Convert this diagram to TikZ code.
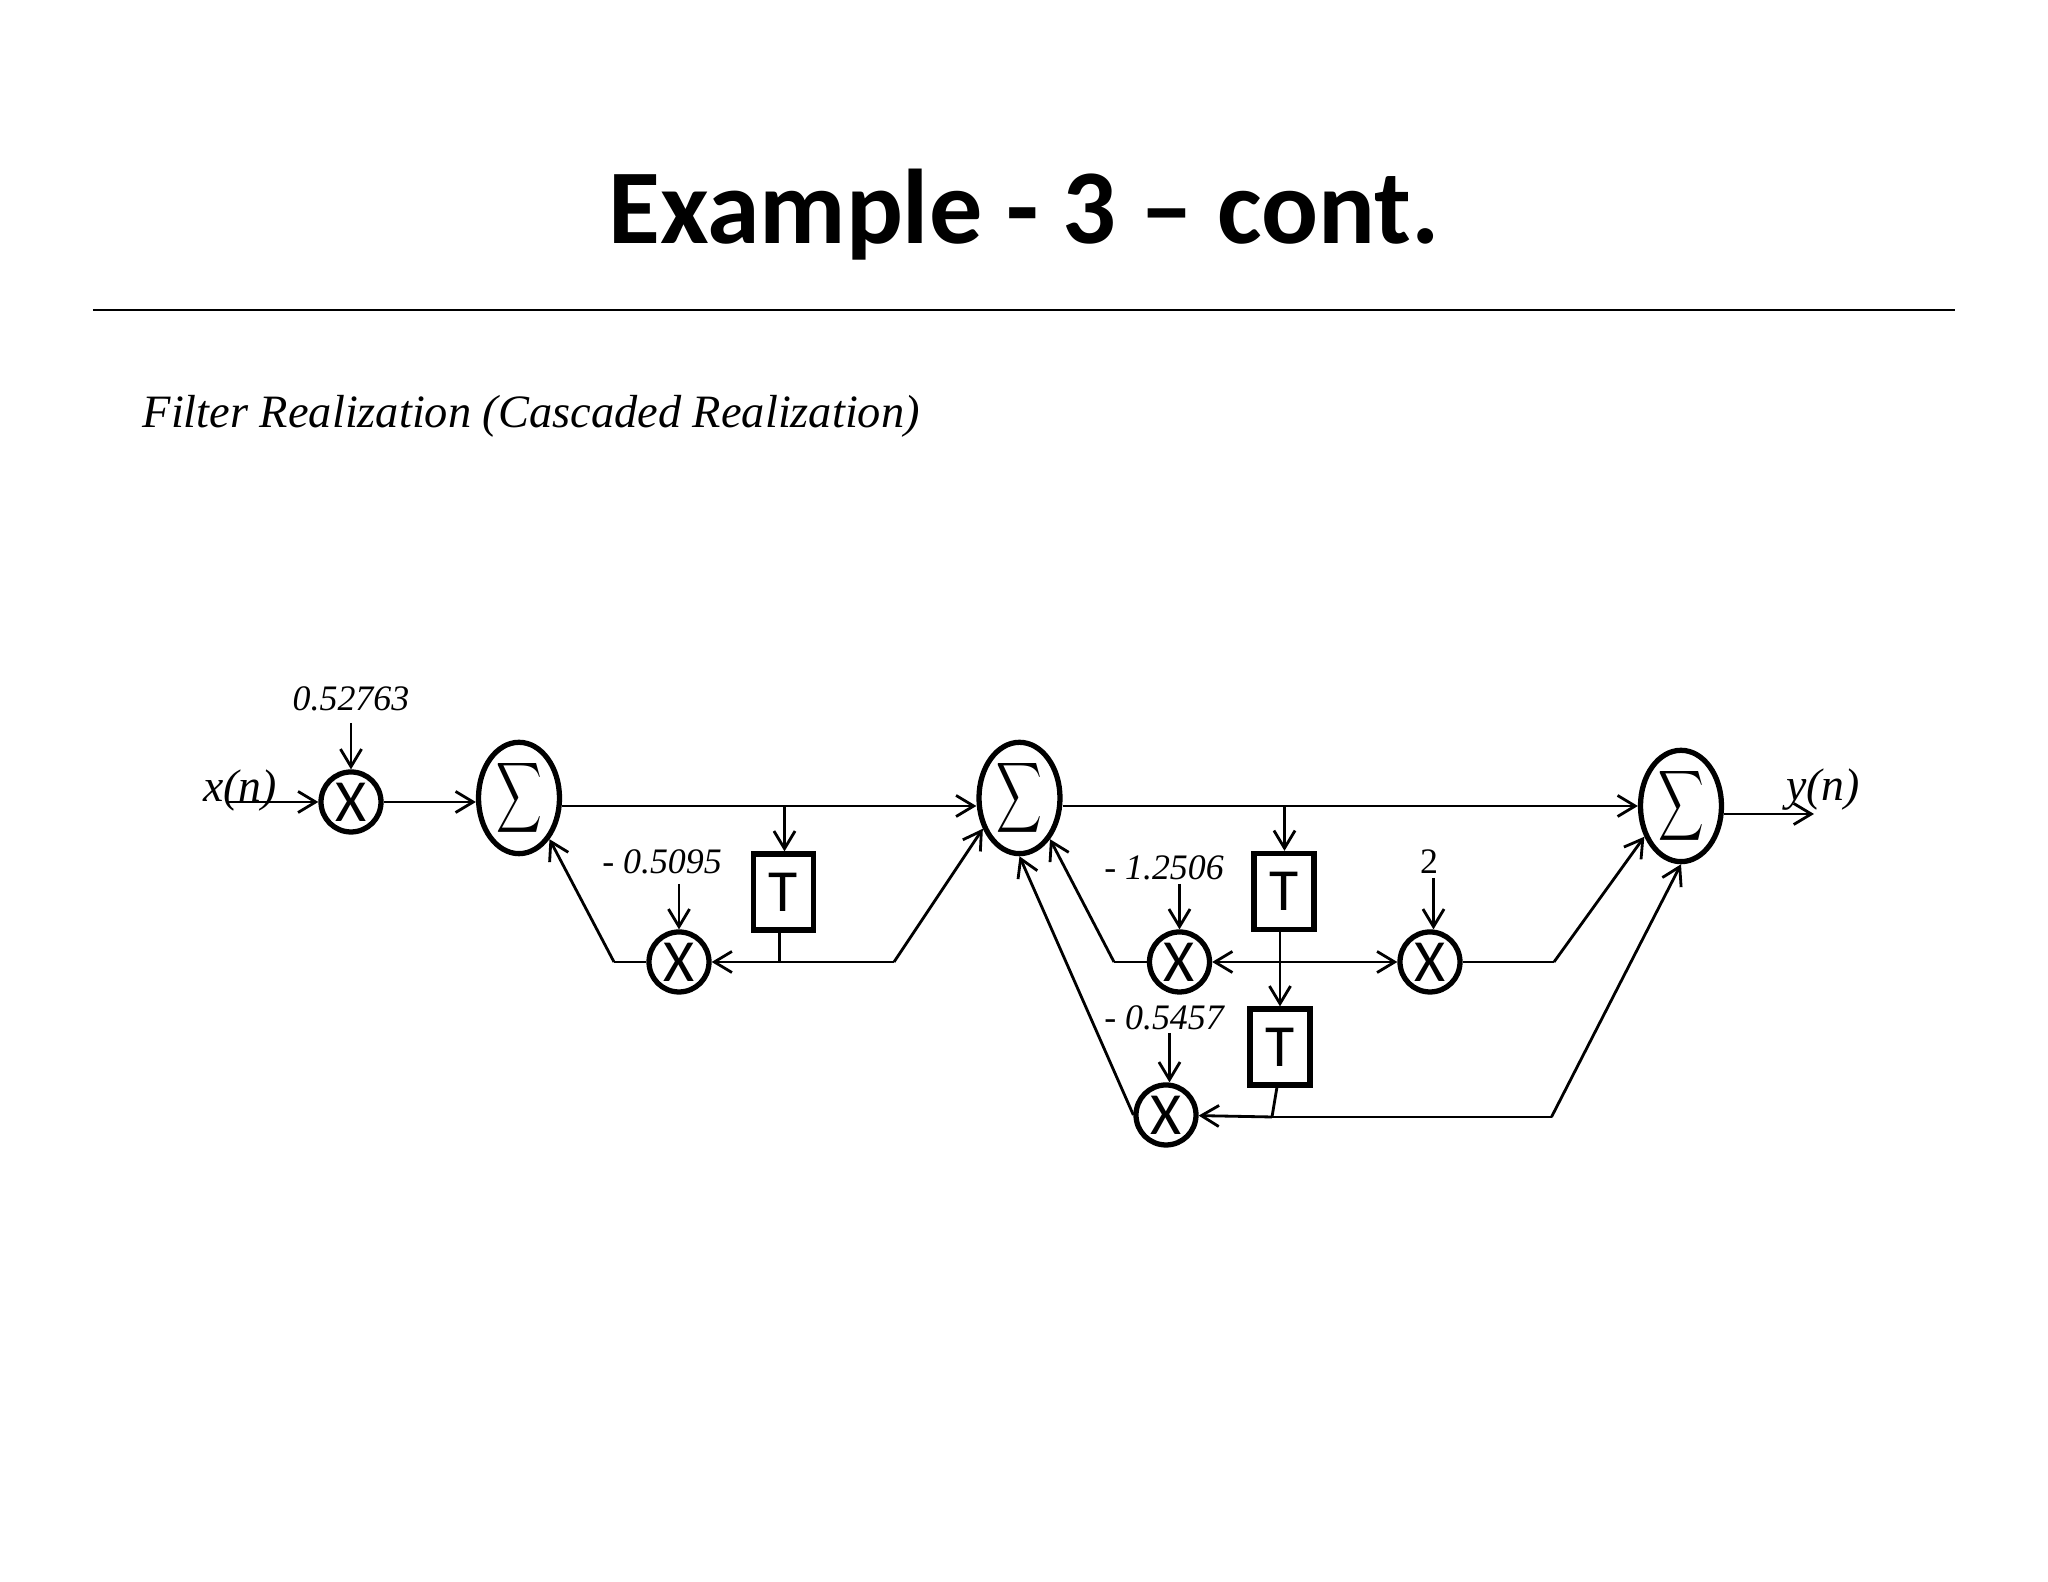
\documentclass[tikz,border=0pt]{standalone}
\usepackage{fontspec}
\setmainfont{Liberation Serif}
\setsansfont{Carlito}
\usetikzlibrary{arrows.meta,shapes.geometric}
\tikzset{
    line/.style={line width=0.8pt},
    arrow/.style={line, -{Straight Barb[length=5pt,width=6pt,line width=0.8pt]}},
    mult/.style={circle, draw, line width=1.5pt, minimum size=0.6cm, inner sep=0pt, font=\sffamily\fontsize{17}{17}\selectfont},
    adder/.style={ellipse, draw, line width=1.5pt, minimum width=0.81cm, minimum height=1.1cm, inner sep=0pt},
    delay/.style={rectangle, draw, line width=1.5pt, minimum width=0.6cm, minimum height=0.76cm, inner sep=0pt, font=\sffamily\fontsize{17}{17}\selectfont},
    coef/.style={font=\itshape\fontsize{10.2}{12}\selectfont},
    signal/.style={font=\itshape\fontsize{13}{14}\selectfont}
}
\newcommand{\sumsign}{\scalebox{0.9}[1.4]{$\displaystyle\sum$}}
\begin{document}
\begin{tikzpicture}
\useasboundingbox (0,0) rectangle (20.48,15.82);
% Heading
\node[font=\sffamily\bfseries\fontsize{30.2}{34}\selectfont, anchor=base] (heading) at (10.24,13.38) {Example - 3 – cont.};
\coordinate (ruleL) at (0.93,12.72);
\coordinate (ruleR) at (19.55,12.72);
\draw[line] (ruleL) -- (ruleR);
\node[font=\itshape\fontsize{13.2}{15}\selectfont, anchor=west, inner sep=0pt] (subhead) at (1.42,11.66) {Filter Realization (Cascaded Realization)};

% Adders
\node[adder] (sumA) at (5.19,7.84) {\sumsign};
\node[adder] (sumB) at (10.195,7.84) {\sumsign};
\node[adder] (sumC) at (16.81,7.76) {\sumsign};

% Multipliers
\node[mult] (mulA) at (3.51,7.80) {X};
\node[mult] (mulB) at (6.79,6.20) {X};
\node[mult] (mulC) at (11.795,6.20) {X};
\node[mult] (mulD) at (14.30,6.20) {X};
\node[mult] (mulE) at (11.66,4.67) {X};

% Delays
\node[delay] (delayA) at (7.835,6.90) {T};
\node[delay] (delayB) at (12.84,6.905) {T};
\node[delay] (delayC) at (12.80,5.35) {T};

% Coefficients
\node[coef] (coefA) at (3.51,8.83) {0.52763};
\node[coef] (coefB) at (6.62,7.20) {- 0.5095};
\node[coef] (coefC) at (11.64,7.14) {- 1.2506};
\node[coef, font=\fontsize{10.2}{12}\selectfont] (coefD) at (14.29,7.20) {2};
\node[coef] (coefE) at (11.64,5.64) {- 0.5457};
\coordinate (tailA) at (3.51,8.59);
\coordinate (tailB) at (6.79,6.98);
\coordinate (tailC) at (11.795,6.98);
\coordinate (tailD) at (14.335,7.04);
\coordinate (tailE) at (11.695,5.49);
\draw[arrow] (tailA) -- (mulA);
\draw[arrow] (tailB) -- (mulB);
\draw[arrow] (tailC) -- (mulC);
\draw[arrow] (tailD) -- (tailD |- mulD.north);
\draw[arrow] (tailE) -- (tailE |- mulE.north);

% Signals
\node[signal] (input) at (2.40,7.91) {x(n)};
\node[signal] (output) at (18.23,7.92) {y(n)};
\coordinate (inStart) at (2.27,7.80);
\coordinate (outEnd) at (18.14,7.68);
\draw[arrow] (inStart) -- (mulA);
\draw[arrow] (mulA) -- (sumA.west |- mulA);
\draw[arrow] (sumC.east |- outEnd) -- (outEnd);

% Forward paths
\coordinate (tapA) at (7.845,7.76);
\coordinate (tapB) at (12.845,7.76);
\draw[line] (sumA.east |- tapA) -- (tapA);
\draw[arrow] (tapA) -- (sumB.west |- tapA);
\draw[arrow] (tapA) -- (delayA.north -| tapA);
\draw[line] (sumB.east |- tapB) -- (tapB);
\draw[arrow] (tapB) -- (sumC.west |- tapB);
\draw[arrow] (tapB) -- (delayB.north -| tapB);

% First section
\coordinate (nodeA) at (7.795,6.20);
\coordinate (bendAL) at (6.14,6.20);
\coordinate (bendAR) at (8.94,6.20);
\draw[line] (delayA.south -| nodeA) -- (nodeA);
\draw[arrow] (nodeA) -- (mulB);
\draw[line] (nodeA) -- (bendAR);
\draw[arrow] (bendAR) -- (sumB.220);
\draw[line] (mulB) -- (bendAL);
\draw[arrow] (bendAL) -- (sumA.south east);

% Second section
\coordinate (nodeB) at (12.80,6.20);
\coordinate (bendBL) at (11.14,6.20);
\coordinate (bendBR) at (15.54,6.20);
\coordinate (nodeC) at (12.72,4.65);
\coordinate (bendC) at (15.515,4.65);
\coordinate (tailF) at (12.77,4.95);
\draw[arrow] (nodeB) -- (mulC);
\draw[arrow] (nodeB) -- (mulD);
\draw[arrow] (delayB.south -| nodeB) -- (delayC.north -| nodeB);
\draw[line] (mulC) -- (bendBL);
\draw[arrow] (bendBL) -- (sumB.south east);
\draw[line] (mulD) -- (bendBR);
\draw[arrow] (bendBR) -- (sumC.220);
\draw[line] (tailF) -- (nodeC);
\draw[arrow] (nodeC) -- (mulE);
\draw[line] (nodeC) -- (bendC);
\draw[arrow] (bendC) -- (sumC.south);
\draw[arrow] (mulE.west) -- (sumB.south);
\end{tikzpicture}
\end{document}
